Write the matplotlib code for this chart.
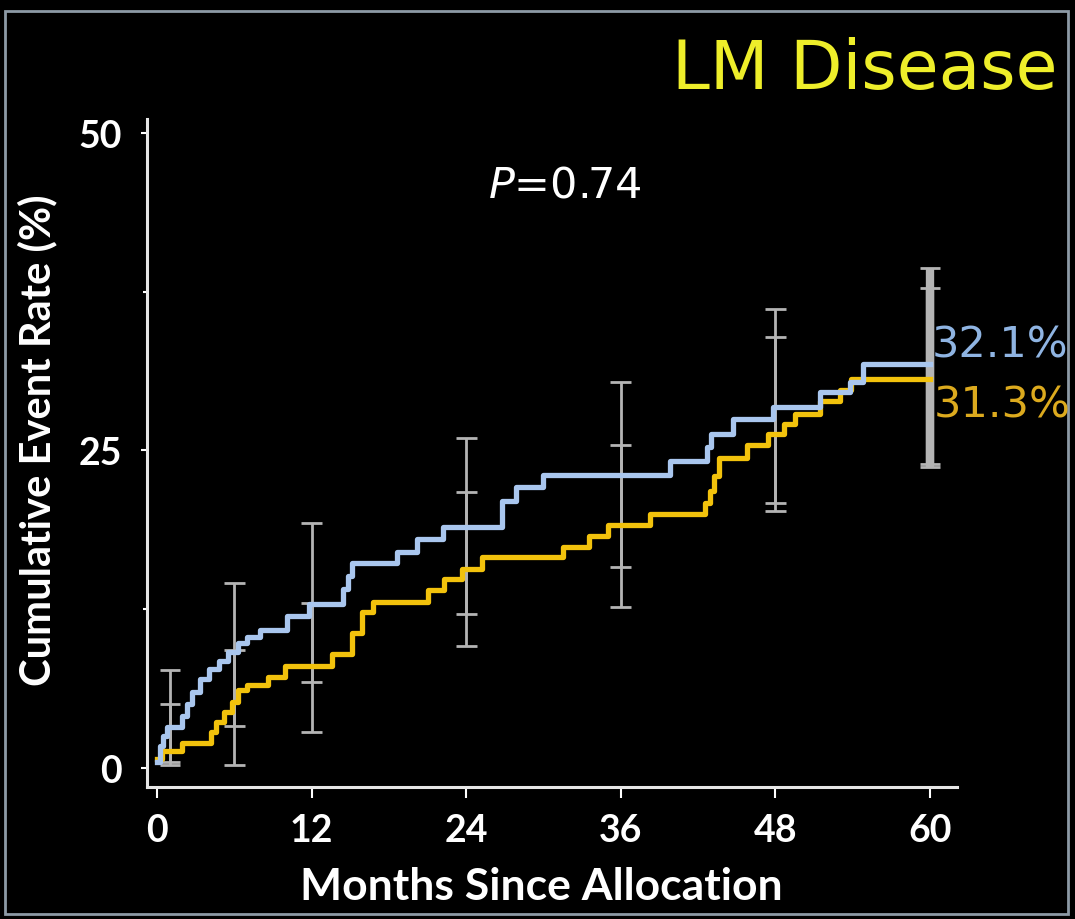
import matplotlib
matplotlib.use('Agg')
import matplotlib.pyplot as plt
from matplotlib.patches import Rectangle

# Kaplan-Meier style cumulative event curves (months, percent), step after each time
blue_t = [0, 0.2, 0.5, 0.8, 1.9, 2.3, 2.7, 3.3, 4.0, 4.8, 5.5, 6.3, 7.0, 8.0, 10.1, 11.8,
          14.4, 14.8, 15.1, 18.6, 20.2, 22.2, 26.8, 27.9, 30.0, 39.8, 42.7, 43.0, 44.7,
          47.8, 51.5, 53.8, 54.8, 60]
blue_v = [0.5, 1.7, 2.5, 3.2, 4.1, 5.0, 6.0, 7.0, 7.8, 8.4, 9.1, 9.8, 10.3, 10.9, 12.0, 12.9,
          14.1, 15.1, 16.1, 17.0, 18.0, 19.0, 21.0, 22.1, 23.1, 24.2, 25.3, 26.3, 27.5,
          28.4, 29.6, 30.4, 31.8, 31.8]

yellow_t = [0, 0.4, 1.9, 4.2, 4.6, 5.2, 5.8, 6.3, 7.0, 8.6, 9.9, 13.6, 15.1, 15.9, 16.8,
            21.0, 22.3, 23.7, 25.2, 31.5, 33.5, 35.0, 38.3, 42.5, 42.9, 43.2, 43.6, 45.8,
            47.4, 48.7, 49.5, 51.5, 53.0, 53.9, 60]
yellow_v = [0.7, 1.3, 2.0, 2.8, 3.6, 4.4, 5.2, 6.1, 6.5, 7.2, 8.0, 9.0, 10.6, 12.3, 13.1,
            14.0, 14.9, 15.7, 16.6, 17.4, 18.3, 19.1, 20.0, 20.9, 21.8, 23.0, 24.4, 25.4,
            26.3, 27.1, 27.9, 28.9, 29.8, 30.6, 30.6]

# confidence interval bars
ci_months = [1, 6, 12, 24, 36, 48, 60]
blue_lo = [0.5, 3.3, 6.8, 12.1, 15.8, 20.9, 23.9]
blue_hi = [7.7, 14.6, 19.3, 26.0, 30.4, 36.1, 39.4]
yellow_lo = [0.2, 0.2, 2.8, 9.6, 12.7, 20.2, 23.7]
yellow_hi = [5.0, 9.3, 13.0, 21.7, 25.4, 33.9, 37.8]

x_ticks = [0, 12, 24, 36, 48, 60]
y_ticks = [0, 25, 50]

BLUE = '#a9c6ee'
GOLD = '#f2c20c'
GRAY = '#b4b4b4'
W = 1075
H = 920

fig = plt.figure(figsize=(W / 100, H / 100), dpi=100, facecolor='black')
ax = fig.add_axes([147 / W, 1 - 788 / H, (957 - 147) / W, (788 - 120) / H])
ax.set_facecolor('black')

# CI bars (60-month one is drawn thicker)
lws = [2.0] * (len(ci_months) - 1) + [6.0]
for lo, hi in [(blue_lo, blue_hi), (yellow_lo, yellow_hi)]:
    ax.vlines(ci_months, lo, hi, colors=GRAY, linewidths=lws, zorder=2)
    for m, a, b in zip(ci_months, lo, hi):
        ax.hlines([a, b], m - 0.8, m + 0.8, colors=GRAY, linewidth=2.0, zorder=2)

ax.step(yellow_t, yellow_v, where='post', color=GOLD, lw=3.8, zorder=3)
ax.step(blue_t, blue_v, where='post', color=BLUE, lw=3.8, zorder=4)

ax.set_xlim(-0.78, 62.1)
ax.set_ylim(-1.5, 51.1)
ax.set_xticks(x_ticks)
ax.set_yticks(y_ticks)
ax.set_yticks([12.5, 37.5], minor=True)

for side in ['top', 'right']:
    ax.spines[side].set_visible(False)
for side in ['left', 'bottom']:
    ax.spines[side].set_color('#e6e6e6')
    ax.spines[side].set_linewidth(2.2)

ax.tick_params(axis='x', colors='white', length=8, width=1.5, pad=11,
               labelsize=27, labelcolor='white')
ax.tick_params(axis='y', colors='white', length=4, width=1.5, pad=14,
               labelsize=27, labelcolor='white')
ax.tick_params(axis='y', which='minor', colors='white', length=3, width=1.5)
for lab in ax.get_xticklabels() + ax.get_yticklabels():
    lab.set_family('Lato')
    lab.set_fontweight('bold')

fig.text(37 / W, 1 - 440 / H, 'Cumulative Event Rate (%)', rotation=90, color='white',
         fontsize=30, family='Lato', fontweight='bold', ha='center', va='center')
fig.text(541 / W, 1 - 887 / H, 'Months Since Allocation', color='white',
         fontsize=32, family='Lato', fontweight='bold', ha='center', va='center')

fig.text(1057 / W, 1 - 70 / H, 'LM Disease', color='#eeee2a', fontsize=49,
         family='DejaVu Sans', ha='right', va='center')
fig.text(565 / W, 1 - 185 / H, '$P$=0.74', color='white', fontsize=31,
         ha='center', va='center')

fig.text(932 / W, 1 - 345 / H, '32.1%', color='#8fb4e2', fontsize=31,
         ha='left', va='center')
fig.text(934 / W, 1 - 405 / H, '31.3%', color='#dcaa1e', fontsize=31,
         ha='left', va='center')

# thin frame around the slide panel
fig.patches.append(Rectangle((5 / W, 5 / H), 1063 / W, 903 / H, transform=fig.transFigure,
                             fill=False, edgecolor='#8d9aa6', linewidth=2))

fig.savefig('out.png', dpi=100, facecolor='black')
